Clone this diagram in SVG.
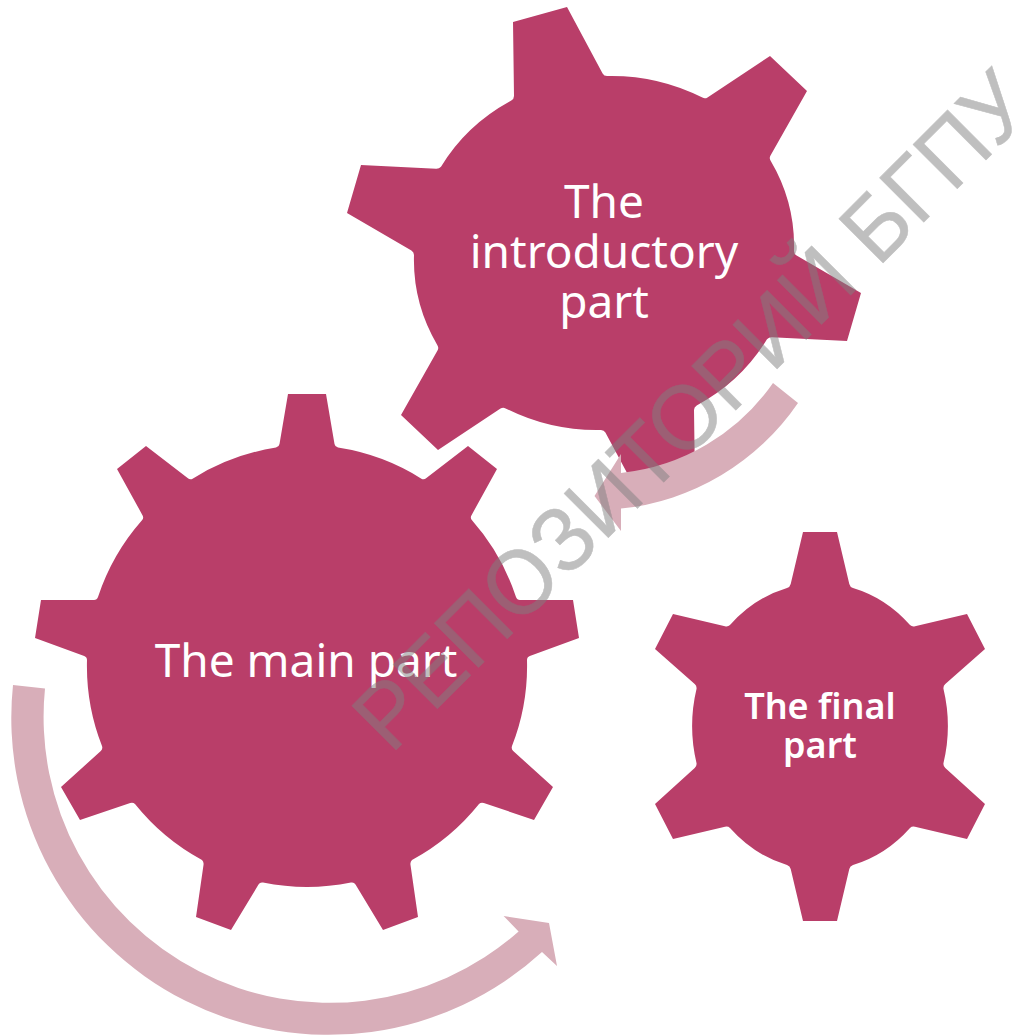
<svg xmlns="http://www.w3.org/2000/svg" width="1014" height="1036" viewBox="0 0 1014 1036">
<style>
.gear{fill:#B93E69}
.arrow{fill:#D8AEB9}
.label{font-family:"Noto Sans","Open Sans",sans-serif;fill:#fff;text-anchor:middle}
.big{font-size:46px}
.small{font-size:36px;font-weight:600}
.wm{font-family:"Liberation Sans",Arial,sans-serif;font-size:91px;fill:#808080;stroke:#808080;stroke-width:.5;opacity:.5}
</style>
<rect width="1014" height="1036" fill="#fff"/>
<g id="node-introductory">
<path class="gear" d="M513,22 L567,7 L602.6,73.4 Q604,76 607,76 A190,177 0 0 1 702.4,97.6 Q705,99 707.5,97.4 L770,56 L807,91 L770.5,155.4 Q769,158 770.5,160.6 A190,177 0 0 1 794,251 Q794,254 796.6,255.5 L861,293 L847,341 L772,337.2 Q769,337 767,339.3 A190,177 0 0 1 696.7,405.5 Q694,407 694,410 L695,484 L641,499 L605.4,432.6 Q604,430 601,430 A190,177 0 0 1 505.6,408.4 Q503,407 500.5,408.6 L438,450 L401,415 L437.5,350.6 Q439,348 437.5,345.4 A190,177 0 0 1 414,255 Q414,252 411.4,250.5 L347,213 L361,165 L436,168.8 Q439,169 441,166.7 A190,177 0 0 1 511.3,100.5 Q514,99 514,96 Z"/>
<text class="label big" x="604" y="218">The</text>
<text class="label big" x="604" y="268">introductory</text>
<text class="label big" x="604" y="318">part</text>
</g>
<g id="node-main">
<path class="gear" d="M288,394 L326,394 L334.5,444 Q335,447 338,447.6 A220,220 0 0 1 421.4,478.7 Q424,480 426.4,478 L468,446 L497,469 L471.4,515.4 Q470,518 472,520.3 A220,220 0 0 1 516,597 Q517,600 520,600 L573,600 L579,638 L529.8,656 Q527,657 527,660 A220,220 0 0 1 512,746 Q511,749 513.2,751 L553,787 L534,820 L483.8,803 Q481,802 479,804 A220,220 0 0 1 412,860 Q410,862 410.5,865 L418,917 L383,930 L355.5,884.6 Q354,882 351,882.6 A220,220 0 0 1 263,882.6 Q260,882 258.5,884.6 L231,930 L196,917 L203.5,865 Q204,862 202,860 A220,220 0 0 1 135,804 Q133,802 130.2,803 L80,820 L61,787 L100.8,751 Q103,749 102,746 A220,220 0 0 1 87,660 Q87,657 84.2,656 L35,638 L41,600 L94,600 Q97,600 98,597 A220,220 0 0 1 142,520.3 Q144,518 142.6,515.4 L117,469 L146,446 L187.6,478 Q190,480 192.6,478.7 A220,220 0 0 1 276,447.6 Q279,447 279.5,444 Z"/>
<text class="label big" x="306" y="677">The main part</text>
</g>
<g id="node-final">
<path class="gear" d="M803,532 L837,532 L849.3,584 Q850,587 853,588 A127,143 0 0 1 910,625 Q912,627 915,626.3 L967,614 L985,649 L945.3,684 Q943,686 943.5,689 A127,143 0 0 1 943.5,763 Q943,766 945.3,768 L985,804 L967,839 L915,826.7 Q912,826 910,828 A127,143 0 0 1 853,865 Q850,866 849.3,869 L837,921 L803,921 L790.7,869 Q790,866 787,865 A127,143 0 0 1 730,828 Q728,826 725,826.7 L673,839 L655,804 L694.7,768 Q697,766 696.5,763 A127,143 0 0 1 696.5,689 Q697,686 694.7,684 L655,649 L673,614 L725,626.3 Q728,627 730,625 A127,143 0 0 1 787,588 Q790,587 790.7,584 Z"/>
<text class="label small" x="820" y="719">The final</text>
<text class="label small" x="820" y="758">part</text>
</g>
<g id="connectors">
<path class="arrow" d="M773,383 A212,212 0 0 1 621,473 L621,454 L594.5,496 L621,531 L621,508.6 A245,245 0 0 0 798,403 Z"/>
<path class="arrow" d="M13,685 A317,317 0 0 0 542,952 L557,966 L549,923 L503.6,916 L518.6,931.5 A286,286 0 0 1 45,688.4 Z"/>
</g>
<text class="wm" transform="translate(391,755) rotate(-45)" textLength="912" lengthAdjust="spacingAndGlyphs">РЕПОЗИТОРИЙ БГПУ</text>
</svg>
